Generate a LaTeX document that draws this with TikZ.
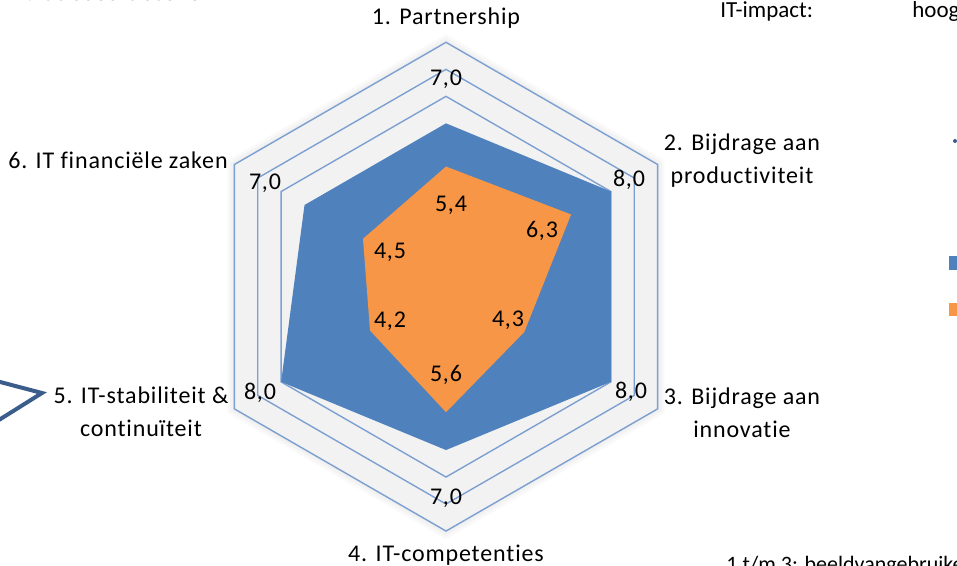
\documentclass[tikz,border=0pt]{standalone}
\usepackage{fontspec}
\setmainfont{Carlito}[Ligatures=NoCommon, LetterSpace=3.5]
\usepackage{tikz}
\usetikzlibrary{calc}

\definecolor{serieA}{RGB}{79,129,189}
\definecolor{serieB}{RGB}{247,150,70}
\definecolor{gridblue}{RGB}{125,160,210}
\definecolor{markblue}{RGB}{59,93,140}

\begin{document}
\begin{tikzpicture}[x=0.5pt, y=0.5pt]
\tikzset{cat/.style={align=center, inner sep=0pt, font=\fontsize{12}{16.5}\selectfont}}
\tikzset{val/.style={inner sep=0pt, font=\fontsize{12}{13}\selectfont}}
\tikzset{note/.style={inner sep=0pt, anchor=base west, font=\fontsize{11.5}{13}\selectfont\addfontfeature{LetterSpace=0}}}
\tikzset{ring/.style={draw=gridblue, line width=0.7pt}}
\tikzset{glow/.style={fill=black, fill opacity=0.025}}

\useasboundingbox (-446,-279.3) rectangle (511,286.7);

	\newcommand{\rad}[1]{27*(#1-0.95)}
	\newcommand{\hexring}[2]{
\path[#2] (90:{\rad{#1}}) -- (30:{\rad{#1}}) -- (-30:{\rad{#1}}) -- (-90:{\rad{#1}}) -- (-150:{\rad{#1}}) -- (150:{\rad{#1}}) -- cycle;
	}
	\newcommand{\radar}[7]{
\path[#7] (90:{\rad{#1}}) -- (30:{\rad{#2}}) -- (-30:{\rad{#3}}) -- (-90:{\rad{#4}}) -- (-150:{\rad{#5}}) -- (150:{\rad{#6}}) -- cycle;
	}

% plot area
\hexring{10.30}{glow}
\hexring{10.18}{glow}
\hexring{10.07}{glow}
\hexring{10}{fill=black!5}
\hexring{10}{ring}
\hexring{9}{ring}
\hexring{8}{ring}

% series
\radar{7}{8}{8}{7}{8}{7}{fill=serieA}
\radar{5.4}{6.3}{4.3}{5.6}{4.2}{4.5}{fill=serieB}

\node[cat] (cat1) at (0,268.7) {1. Partnership};
\node[cat] (cat2) at (296,125.7) {2. Bijdrage aan\\productiviteit};
\node[cat] (cat3) at (296,-126.3) {3. Bijdrage aan\\innovatie};
\node[cat] (cat4) at (0,-268.3) {4. IT-competenties};
\node[cat] (cat5) at (-305,-125.3) {5. IT-stabiliteit \&\\continuïteit};
\node[cat] (cat6) at (-328,126.7) {6. IT financiële zaken};

\node[val] (blue1) at (0,207.7) {7,0};
\node[val] (blue2) at (183,106.7) {8,0};
\node[val] (blue3) at (185,-105.3) {8,0};
\node[val] (blue4) at (0,-211.3) {7,0};
\node[val] (blue5) at (-186,-106.3) {8,0};
\node[val] (blue6) at (-181,103.7) {7,0};

\node[val] (orange1) at (5,81.7) {5,4};
\node[val] (orange2) at (96,55.7) {6,3};
\node[val] (orange3) at (62,-33.3) {4,3};
\node[val] (orange4) at (0,-88.3) {5,6};
\node[val] (orange5) at (-56,-34.3) {4,2};
\node[val] (orange6) at (-56,34.7) {4,5};

% page around the chart
\node[note, font=\fontsize{13}{15}\selectfont\bfseries] (title) at (-434,286.3) {1. Succesfactoren};
\node[note] (impact) at (274,268.7) {IT-impact:};
\node[note] (level) at (466,268.7) {hoog};
\node[note, font=\fontsize{11}{13}\selectfont\addfontfeature{LetterSpace=0}] (footnote) at (280,-285.3) {1 t/m 3: beeldvangebruike};
\fill[markblue] (509,145.7) circle (2);
\fill[serieA] (503,30.7) rectangle (520,16.7);
\fill[serieB] (503,-16) rectangle (520,-29.3);
\draw[markblue, line width=2pt, line join=miter] (-452,-93.7) -- (-404,-106.3) -- (-452,-136.4);
\end{tikzpicture}
\end{document}
